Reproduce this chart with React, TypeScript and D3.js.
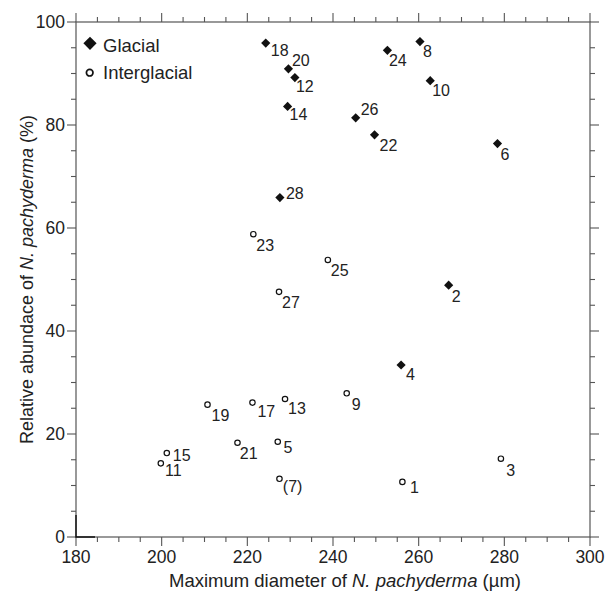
import React from "react";
import * as d3 from "d3";

// ---- data ----
const glacialLabels = ["2", "4", "6", "8", "10", "12", "14", "18", "20", "22", "24", "26", "28"];
const glacialDiameter = [267.0, 255.9, 278.4, 260.3, 262.7, 231.1, 229.4, 224.3, 229.6, 249.7, 252.7, 245.3, 227.6];
const glacialAbundance = [48.9, 33.4, 76.4, 96.2, 88.6, 89.2, 83.6, 95.9, 90.9, 78.1, 94.5, 81.4, 65.9];

const interLabels = ["1", "3", "5", "(7)", "9", "11", "13", "15", "17", "19", "21", "23", "25", "27"];
const interDiameter = [256.2, 279.2, 227.1, 227.5, 243.2, 199.8, 228.8, 201.2, 221.2, 210.7, 217.7, 221.4, 238.8, 227.4];
const interAbundance = [10.7, 15.2, 18.5, 11.3, 27.9, 14.3, 26.8, 16.3, 26.1, 25.7, 18.3, 58.8, 53.8, 47.6];

const xTickLabels = [180, 200, 220, 240, 260, 280, 300];
const yTickLabels = [0, 20, 40, 60, 80, 100];
const legendNames = ["Glacial", "Interglacial"];

// label placement (layout, px offsets from the marker)
const labelOffset: Record<string, [number, number]> = {
  "2": [3, 17], "4": [5, 15], "6": [3, 16], "8": [3, 15], "10": [2, 15], "12": [1, 14],
  "14": [2, 14], "18": [5, 13], "20": [3.5, -3], "22": [5, 16], "24": [1.5, 16], "26": [5, -3],
  "28": [6, 1],
  "1": [7.7, 11], "3": [5.3, 17], "5": [5.7, 11.3], "(7)": [3.4, 13], "9": [5, 17],
  "11": [4.3, 12.3], "13": [3, 14.7], "15": [6, 8], "17": [5, 14], "19": [4, 16],
  "21": [2.3, 16.7], "23": [3, 17], "25": [3, 16], "27": [3, 16.6],
};

const W = 611, H = 599;
const L = 76, R = 590, T = 22, B = 537;
const font = "Liberation Sans, Arial, Helvetica, sans-serif";
const axisColor = "#555";
const textColor = "#222";
const markColor = "#111";

export default function App() {
  const x = d3.scaleLinear().domain([180, 300]).range([L, R]);
  const y = d3.scaleLinear().domain([0, 100]).range([B, T]);
  const xMinor = d3.range(180, 301, 5);
  const yMinor = d3.range(0, 101, 5);
  const diamond = (cx: number, cy: number, s: number) =>
    `M${cx},${cy - s}L${cx + s},${cy}L${cx},${cy + s}L${cx - s},${cy}Z`;

  const isMajor = (v: number) => v % 20 === 0;

  return (
    <svg width={W} height={H} style={{ position: "absolute", left: 0, top: 0, background: "#fff", fontFamily: font }}>
      <rect x={0} y={0} width={W} height={H} fill="#fff" />
      {/* frame */}
      <rect x={L} y={T} width={R - L} height={B - T} fill="none" stroke={axisColor} strokeWidth={1.2} />
      {/* ticks */}
      {xMinor.map((v) => {
        const len = isMajor(v) ? 9 : 5;
        return (
          <g key={"xt" + v} stroke={axisColor} strokeWidth={1.1}>
            <line x1={x(v)} x2={x(v)} y1={B} y2={B + len} />
            <line x1={x(v)} x2={x(v)} y1={T} y2={T - len} />
          </g>
        );
      })}
      {yMinor.map((v) => {
        const len = isMajor(v) ? 9 : 5;
        return (
          <g key={"yt" + v} stroke={axisColor} strokeWidth={1.1}>
            <line x1={L} x2={L - len} y1={y(v)} y2={y(v)} />
            <line x1={R} x2={R + len} y1={y(v)} y2={y(v)} />
          </g>
        );
      })}
      <path d={`M${L},${B - 22}L${L},${B}L${L + 19},${B}`} fill="none" stroke="#111" strokeWidth={1.4} />
      {/* tick labels */}
      {xTickLabels.map((v) => (
        <text key={"xl" + v} x={x(v)} y={B + 26} textAnchor="middle" fontSize={17.5} fill={textColor}>
          {v}
        </text>
      ))}
      {yTickLabels.map((v) => (
        <text key={"yl" + v} x={L - 11} y={y(v) + 6} textAnchor="end" fontSize={17.5} fill={textColor}>
          {v}
        </text>
      ))}
      {/* axis titles */}
      <text x={345} y={587} textAnchor="middle" fontSize={18.5} fill={textColor}>
        Maximum diameter of <tspan fontStyle="italic">N. pachyderma</tspan> (µm)
      </text>
      <text transform={`translate(33,${(T + B) / 2}) rotate(-90)`} textAnchor="middle" fontSize={18} fill={textColor}>
        Relative abundace of <tspan fontStyle="italic">N. pachyderma</tspan> (%)
      </text>
      {/* glacial points */}
      {glacialLabels.map((lab, i) => {
        const cx = x(glacialDiameter[i]);
        const cy = y(glacialAbundance[i]);
        const [dx, dy] = labelOffset[lab];
        return (
          <g key={"g" + lab}>
            <path d={diamond(cx, cy, 4.6)} fill={markColor} />
            <text x={cx + dx} y={cy + dy} fontSize={16} fill={textColor}>{lab}</text>
          </g>
        );
      })}
      {/* interglacial points */}
      {interLabels.map((lab, i) => {
        const cx = x(interDiameter[i]);
        const cy = y(interAbundance[i]);
        const [dx, dy] = labelOffset[lab];
        return (
          <g key={"i" + lab}>
            <circle cx={cx} cy={cy} r={2.7} fill="#fff" stroke={markColor} strokeWidth={1.2} />
            <text x={cx + dx} y={cy + dy} fontSize={16} fill={textColor}>{lab}</text>
          </g>
        );
      })}
      {/* legend */}
      <path d={diamond(90, 43.3, 6.6)} fill={markColor} />
      <text x={103} y={51.5} fontSize={18.5} fill={textColor}>{legendNames[0]}</text>
      <circle cx={89.7} cy={72.7} r={3.3} fill="#fff" stroke={markColor} strokeWidth={1.7} />
      <text x={103} y={78.5} fontSize={18.5} fill={textColor}>{legendNames[1]}</text>
    </svg>
  );
}
